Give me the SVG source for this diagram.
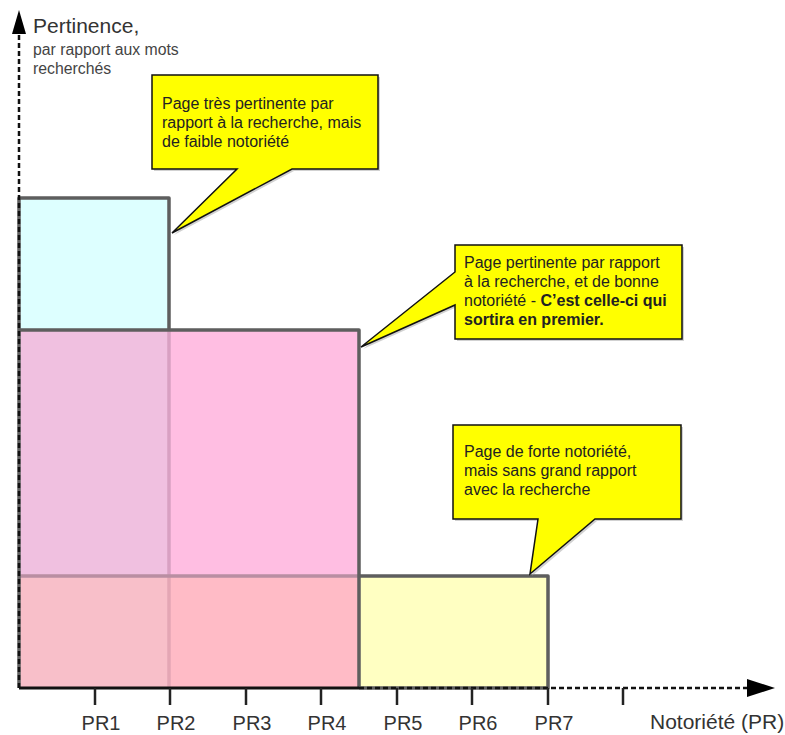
<svg xmlns="http://www.w3.org/2000/svg" width="785" height="735" viewBox="0 0 785 735">
<style>
text{font-family:"Liberation Sans",Arial,sans-serif;fill:#222}
.lbl{font-size:20px;fill:#333}
.big{font-size:21px;fill:#333}
.sub{font-size:15.8px;fill:#444}
.ct{font-size:16px;fill:#222}
.b{font-weight:bold}
.edge{stroke:#5e5e5e;stroke-width:3.5;fill:none;stroke-linejoin:round}
.call{fill:#ffff00;stroke:#111;stroke-width:1.5;stroke-linejoin:miter}
.shadow{fill:#999;opacity:.45}
.tick{stroke:#222;stroke-width:2.5}
.dash{stroke:#111;stroke-width:2.5;stroke-dasharray:5 3;fill:none}
</style>
<rect width="785" height="735" fill="#fff"/>
<g id="zone-cyan">
<rect x="19" y="198" width="150" height="132" fill="#ddffff"/>
</g>
<g id="zone-pink">
<rect x="19" y="330" width="150" height="246" fill="#f0c0e0"/>
<rect x="169" y="330" width="190" height="246" fill="#ffbee2"/>
</g>
<g id="zone-red">
<rect x="19" y="576" width="150" height="112" fill="#f8bfc9"/>
<rect x="169" y="576" width="190" height="112" fill="#ffbbc6"/>
</g>
<g id="zone-yellow">
<rect x="359" y="576" width="189" height="112" fill="#ffffc2"/>
</g>
<g id="edges">
<line x1="169" y1="330" x2="169" y2="576" stroke="#d8a0c2" stroke-width="3.5"/>
<line x1="169" y1="576" x2="169" y2="688" stroke="#e4a6b4" stroke-width="3.5"/>
<line x1="19" y1="576" x2="359" y2="576" stroke="#b98ea2" stroke-width="3.5"/>
<path class="edge" d="M19,688 V198 H169 V330"/>
<path class="edge" d="M19,330 H359 V688"/>
<path class="edge" d="M359,576 H548 V688 H359"/>
</g>
<g id="axes">
<line x1="19" y1="688" x2="359" y2="688" stroke="#111" stroke-width="3"/>
<line class="dash" x1="359" y1="688" x2="748" y2="688"/>
<polygon points="775,688 747,679 747,697" fill="#000"/>
<line class="dash" x1="19" y1="688" x2="19" y2="32"/>
<polygon points="19,10 12,34 26,34" fill="#000"/>
<line class="tick" x1="95" y1="688" x2="95" y2="705"/>
<line class="tick" x1="170" y1="688" x2="170" y2="705"/>
<line class="tick" x1="246" y1="688" x2="246" y2="705"/>
<line class="tick" x1="321" y1="688" x2="321" y2="705"/>
<line class="tick" x1="397" y1="688" x2="397" y2="705"/>
<line class="tick" x1="472" y1="688" x2="472" y2="705"/>
<line class="tick" x1="548" y1="688" x2="548" y2="705"/>
<line class="tick" x1="623" y1="688" x2="623" y2="705"/>
</g>
<g id="axis-labels">
<text class="big" x="33" y="33">Pertinence,</text>
<text class="sub" x="33" y="55">par rapport aux mots</text>
<text class="sub" x="33" y="74">recherchés</text>
<text class="lbl" x="101" y="730" text-anchor="middle">PR1</text>
<text class="lbl" x="176" y="730" text-anchor="middle">PR2</text>
<text class="lbl" x="252" y="730" text-anchor="middle">PR3</text>
<text class="lbl" x="327" y="730" text-anchor="middle">PR4</text>
<text class="lbl" x="403" y="730" text-anchor="middle">PR5</text>
<text class="lbl" x="478" y="730" text-anchor="middle">PR6</text>
<text class="lbl" x="554" y="730" text-anchor="middle">PR7</text>
<text class="big" x="650" y="729">Notoriété (PR)</text>
</g>
<g id="callout-1">
<path class="shadow" d="M154,77 H380 V171 H294 L174,235 L239,171 H154 Z"/>
<path class="call" d="M152,75 H378 V169 H292 L172,233 L237,169 H152 Z"/>
<text class="ct" x="162" y="109">Page très pertinente par</text>
<text class="ct" x="162" y="128">rapport à la recherche, mais</text>
<text class="ct" x="162" y="147">de faible notoriété</text>
</g>
<g id="callout-2">
<path class="shadow" d="M457,247 H684 V341 H457 V307 L363,349 L457,274 Z"/>
<path class="call" d="M455,245 H682 V339 H455 V305 L361,347 L455,272 Z"/>
<text class="ct" x="464" y="268">Page pertinente par rapport</text>
<text class="ct" x="464" y="287">à la recherche, et de bonne</text>
<text class="ct" x="464" y="306">notoriété - <tspan class="b">C’est celle-ci qui</tspan></text>
<text class="ct b" x="464" y="325">sortira en premier.</text>
</g>
<g id="callout-3">
<path class="shadow" d="M455,427 H683 V521 H597 L532,576 L540,521 H455 Z"/>
<path class="call" d="M453,425 H681 V519 H595 L530,574 L538,519 H453 Z"/>
<text class="ct" x="464" y="457">Page de forte notoriété,</text>
<text class="ct" x="464" y="476">mais sans grand rapport</text>
<text class="ct" x="464" y="495">avec la recherche</text>
</g>
</svg>
